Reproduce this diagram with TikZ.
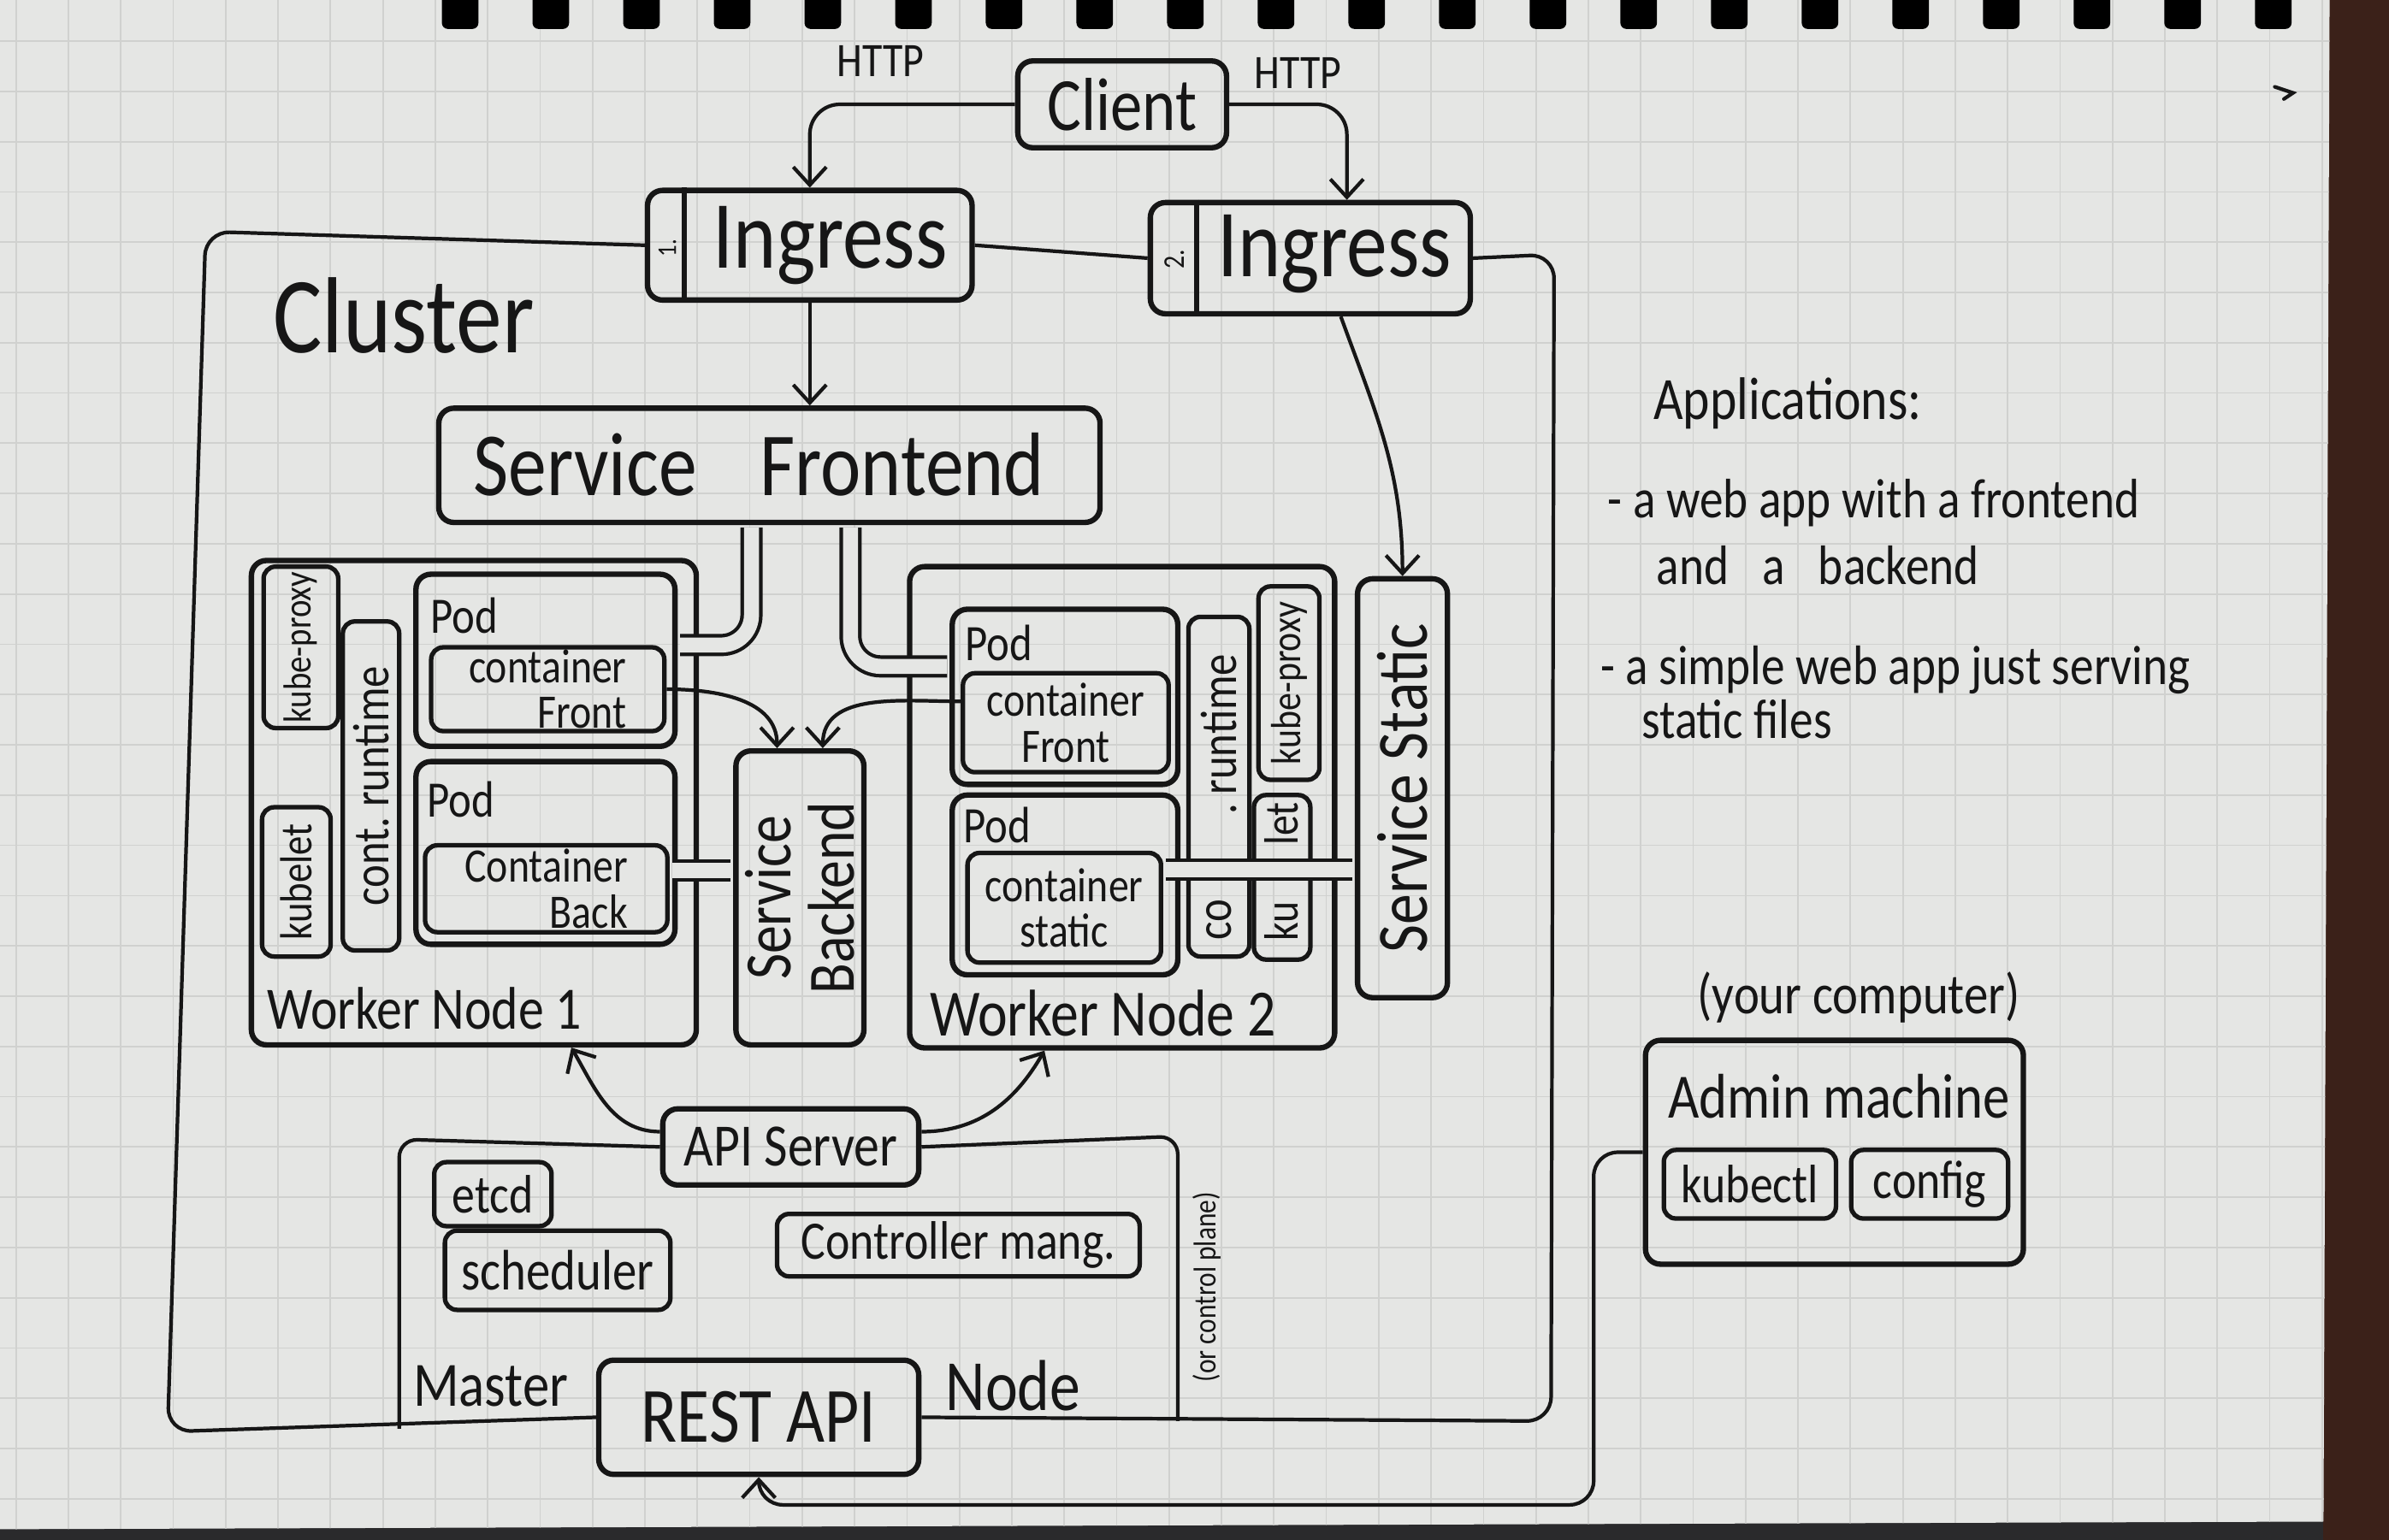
\documentclass[tikz,border=0pt]{standalone}
\usepackage{fontspec}
\setmainfont{Carlito}[FakeStretch=0.85]
\usetikzlibrary{arrows.meta,calc,fit}
\definecolor{ink}{HTML}{161616}
\definecolor{paper}{HTML}{E5E6E4}
\definecolor{gridc}{HTML}{D0D1CF}
\definecolor{wood}{HTML}{3B2119}
\definecolor{desk}{HTML}{2A2A2C}

\begin{document}
\begin{tikzpicture}[x=0.0178cm,y=-0.0178cm,
  pen/.style={draw=ink,line width=1.8pt},
  thinpen/.style={draw=ink,line width=1.2pt},
  box/.style={pen,rounded corners=5pt,inner sep=0pt},
  sbox/.style={draw=ink,line width=1.5pt,rounded corners=4pt,inner sep=0pt},
  lbl/.style={text=ink,inner sep=0pt,font=\fontsize{#1}{\the\dimexpr#1pt*4/5\relax}\selectfont},
  lbltwo/.style={text=ink,inner sep=0pt,font=\fontsize{#1}{\the\dimexpr#1pt*19/20\relax}\selectfont},
  arr/.style={thinpen,-{Straight Barb[length=6pt,width=11pt,line width=1.2pt]}},
  pipe/.style={draw=ink,line width=1.2pt,double=paper,double distance=5pt,
               shorten <=0.8pt,shorten >=0.8pt},
]
\useasboundingbox (0,0) rectangle (1568,1011);

% --- notebook page on the desk ---
\fill[desk] (0,0) rectangle (1568,1011);
\fill[wood] (1525,0) rectangle (1568,1011);
\fill[paper] (0,0) -- (1529,0) -- (1525,999) -- (0,1004) -- cycle;
\begin{scope}
  \clip (0,0) -- (1529,0) -- (1525,999) -- (0,1004) -- cycle;
  \foreach \gx in {10.5,44.9,...,1530} \draw[gridc,line width=0.5pt] (\gx,0) -- (\gx,1010);
  \foreach \gy in {27,60,...,1010} \draw[gridc,line width=0.5pt] (0,\gy) -- (1530,\gy);
\end{scope}
% spiral binding holes
\foreach \bx in {290,349.5,...,1500} \fill[black,rounded corners=2pt] (\bx,-5) rectangle (\bx+24,19);
\draw[thinpen,line cap=round] (1493,57) -- (1505,61) -- (1499,65);

% --- client and ingresses ---
\node[box,fit={(668,40)(805,97)}] (client) {};
\node[lbl=25] (clientT) at (client.center) {Client};
\node[lbl=16] (http1) at (578,40) {HTTP};
\node[lbl=16] (http2) at (852,48) {HTTP};

\node[box,fit={(425,125)(638,197)}] (ing1) {};
\draw[pen] ($(ing1.north west)+(26,0)$) -- ($(ing1.south west)+(26,0)$);
\node[lbl=9,rotate=90] (ing1n) at (438,163) {1.};
\node[lbl=32] (ing1T) at (545,161) {Ingress};

\node[box,fit={(755,133)(965,206)}] (ing2) {};
\draw[pen] ($(ing2.north west)+(32,0)$) -- ($(ing2.south west)+(32,0)$);
\node[lbl=10,rotate=90] (ing2n) at (771,170) {2.};
\node[lbl=32] (ing2T) at (876,167) {Ingress};

\draw[arr,rounded corners=10pt] (client.west) -| (ing1.north);
\draw[arr,rounded corners=10pt] (client.east) -| ($(ing2.north)+(24,0)$);

% --- control plane boxes ---
\node[box,fit={(435,728)(603,778)}] (api) {};
\node[lbl=20] (apiT) at (api.center) {API Server};
\node[box,fit={(393,893)(603,968)}] (rest) {};
\node[lbl=26] (restT) at (rest.center) {REST API};

% --- cluster outline ---
\draw[thinpen,rounded corners=8pt] (ing1.west) -- (135,152) -- (110,940) -- (rest.west);
\draw[thinpen] (ing1.east) -- (ing2.west);
\draw[thinpen,rounded corners=8pt] (ing2.east) -- (1020,167) -- (1018,933) -- (rest.east);
\node[lbl=36] (clusterT) at (265,207) {Cluster};

% --- master node outline ---
\draw[thinpen,rounded corners=6pt] (api.west) -- (262,748) -- (262,938);
\draw[thinpen,rounded corners=6pt] (api.east) -- (773,746) -- (773,933);

% --- service frontend ---
\node[box,fit={(288,268)(722,343)}] (sfront) {};
\node[lbl=30] (sfrontT) at (498,305) {Service\hspace{0.7em}Frontend};
\draw[arr] (ing1.south) -- (ing1.south |- sfront.north);

% --- worker node 1 ---
\node[box,fit={(165,368)(457,686)}] (wn1) {};
\node[lbl=20,anchor=west] (wn1T) at (175,662) {Worker Node 1};
\node[sbox,fit={(173,372)(222,478)}] (kp1) {};
\node[lbl=13,rotate=90] (kp1T) at (kp1.center) {kube-proxy};
\node[sbox,fit={(172,530)(217,628)}] (kl1) {};
\node[lbl=15,rotate=90] (kl1T) at (kl1.center) {kubelet};
\node[sbox,fit={(225,408)(262,624)}] (rt1) {};
\node[lbl=17,rotate=90] (rt1T) at (rt1.center) {cont.\ runtime};

\node[box,fit={(273,377)(443,490)}] (pod1a) {};
\node[lbl=17,anchor=west] (pod1aT) at (282,404) {Pod};
\node[sbox,fit={(283,425)(436,480)}] (cf1) {};
\node[lbltwo=16,align=right] (cf1T) at (cf1.center) {container\\Front};

\node[box,fit={(273,500)(443,620)}] (pod1b) {};
\node[lbl=17,anchor=west] (pod1bT) at (280,525) {Pod};
\node[sbox,fit={(279,555)(438,612)}] (cb1) {};
\node[lbltwo=16,align=right] (cb1T) at (cb1.center) {Container\\Back};

% --- service backend ---
\node[box,fit={(483,493)(567,686)}] (sback) {};
\node[lbltwo=22,rotate=90,align=center] (sbackT) at (sback.center) {Service\\Backend};

% --- worker node 2 ---
\node[box,fit={(597,372)(876,688)}] (wn2) {};
\node[lbl=22,anchor=west] (wn2T) at (610,665) {Worker Node 2};
\node[box,fit={(625,400)(773,515)}] (pod2a) {};
\node[lbl=17,anchor=west] (pod2aT) at (633,422) {Pod};
\node[sbox,fit={(632,442)(767,507)}] (cf2) {};
\node[lbltwo=16,align=center] (cf2T) at (cf2.center) {container\\Front};
\node[box,fit={(625,522)(773,640)}] (pod2b) {};
\node[lbl=17,anchor=west] (pod2bT) at (632,542) {Pod};
\node[sbox,fit={(635,560)(762,632)}] (cs2) {};
\node[lbltwo=16,align=center] (cs2T) at (cs2.center) {container\\static};
\node[sbox,fit={(780,405)(820,628)}] (rt2) {};
\node[lbl=17,rotate=90] (rt2a) at (800,482) {.\,runtime};
\node[lbl=17,rotate=90] (rt2b) at (800,604) {co};
\node[sbox,fit={(826,385)(866,512)}] (kp2) {};
\node[lbl=14,rotate=90] (kp2T) at (kp2.center) {kube-proxy};
\node[sbox,fit={(823,522)(860,630)}] (kl2) {};
\node[lbl=16,rotate=90] (kl2a) at (841,541) {let};
\node[lbl=16,rotate=90] (kl2b) at (841,605) {ku};

% --- service static ---
\node[box,fit={(891,380)(950,655)}] (sstatic) {};
\node[lbl=24,rotate=90] (sstaticT) at (sstatic.center) {Service Static};

% --- service links (pipes) ---
\draw[pipe,rounded corners=10pt] ($(sfront.south west)+(207,0)$) |- ($(pod1a.east)+(0,-10)$);
\draw[pipe,rounded corners=10pt] ($(sfront.south west)+(272,0)$) |- ($(pod2a.west)+(0,-20)$);
\draw[pipe] ($(cb1.east)+(0,-12)$) -- ($(cb1.east -| sback.west)+(0,-12)$);
\draw[pipe] ($(cs2.east)+(0,-25)$) -- ($(cs2.east -| sstatic.west)+(0,-25)$);

% --- calls into the backend and static service ---
\draw[arr] (cf1.east) to[out=0,in=90] ($(sback.north)+(-15,0)$);
\draw[arr] ($(cf2.west)+(0,-14)$) to[out=180,in=90] ($(sback.north)+(15,0)$);
\draw[arr] ($(ing2.south)+(20,0)$) to[out=-70,in=90] (sstatic.north);

% --- master contents ---
\node[sbox,fit={(285,763)(362,805)}] (etcd) {};
\node[lbl=18] (etcdT) at (etcd.center) {etcd};
\node[sbox,fit={(292,808)(440,860)}] (sched) {};
\node[lbl=19] (schedT) at (sched.center) {scheduler};
\node[sbox,fit={(510,797)(748,838)}] (ctrl) {};
\node[lbl=18] (ctrlT) at (ctrl.center) {Controller mang.};
\node[lbl=21] (masterT) at (322,910) {Master};
\node[lbl=24] (nodeT) at (665,910) {Node};
\node[lbl=10.5,rotate=90] (cpT) at (792,845) {(or control plane)};

\draw[arr] ($(api.west)+(0,-10)$) to[out=180,in=-60] ($(wn1.south)+(64,0)$);
\draw[arr] ($(api.east)+(0,-10)$) to[out=0,in=-120] ($(wn2.south)+(-51,0)$);

% --- applications note ---
\node[lbl=20,anchor=west] (appT) at (1085,265) {Applications:};
\node[lbl=18.5,anchor=west] (app1) at (1055,330) {- a web app with a frontend};
\node[lbl=18.5,anchor=west] (app1b) at (1087,371) {and\hspace{0.6em}a\hspace{0.6em}backend};
\node[lbl=18.5,anchor=west] (app2) at (1050,440) {- a simple web app just serving};
\node[lbl=18.5,anchor=west] (app2b) at (1077,472) {static files};

% --- admin machine ---
\node[lbl=19] (yourT) at (1220,655) {(your computer)};
\node[box,fit={(1080,683)(1328,830)}] (admin) {};
\node[lbl=21] (adminT) at (1207,720) {Admin machine};
\node[sbox,fit={(1092,755)(1205,800)}] (kctl) {};
\node[lbl=18] (kctlT) at (kctl.center) {kubectl};
\node[sbox,fit={(1215,755)(1318,800)}] (cfg) {};
\node[lbl=18] (cfgT) at (cfg.center) {config};

\draw[arr,rounded corners=8pt] (admin.west) -| (1046,988) -| (rest.south);
\end{tikzpicture}
\end{document}
